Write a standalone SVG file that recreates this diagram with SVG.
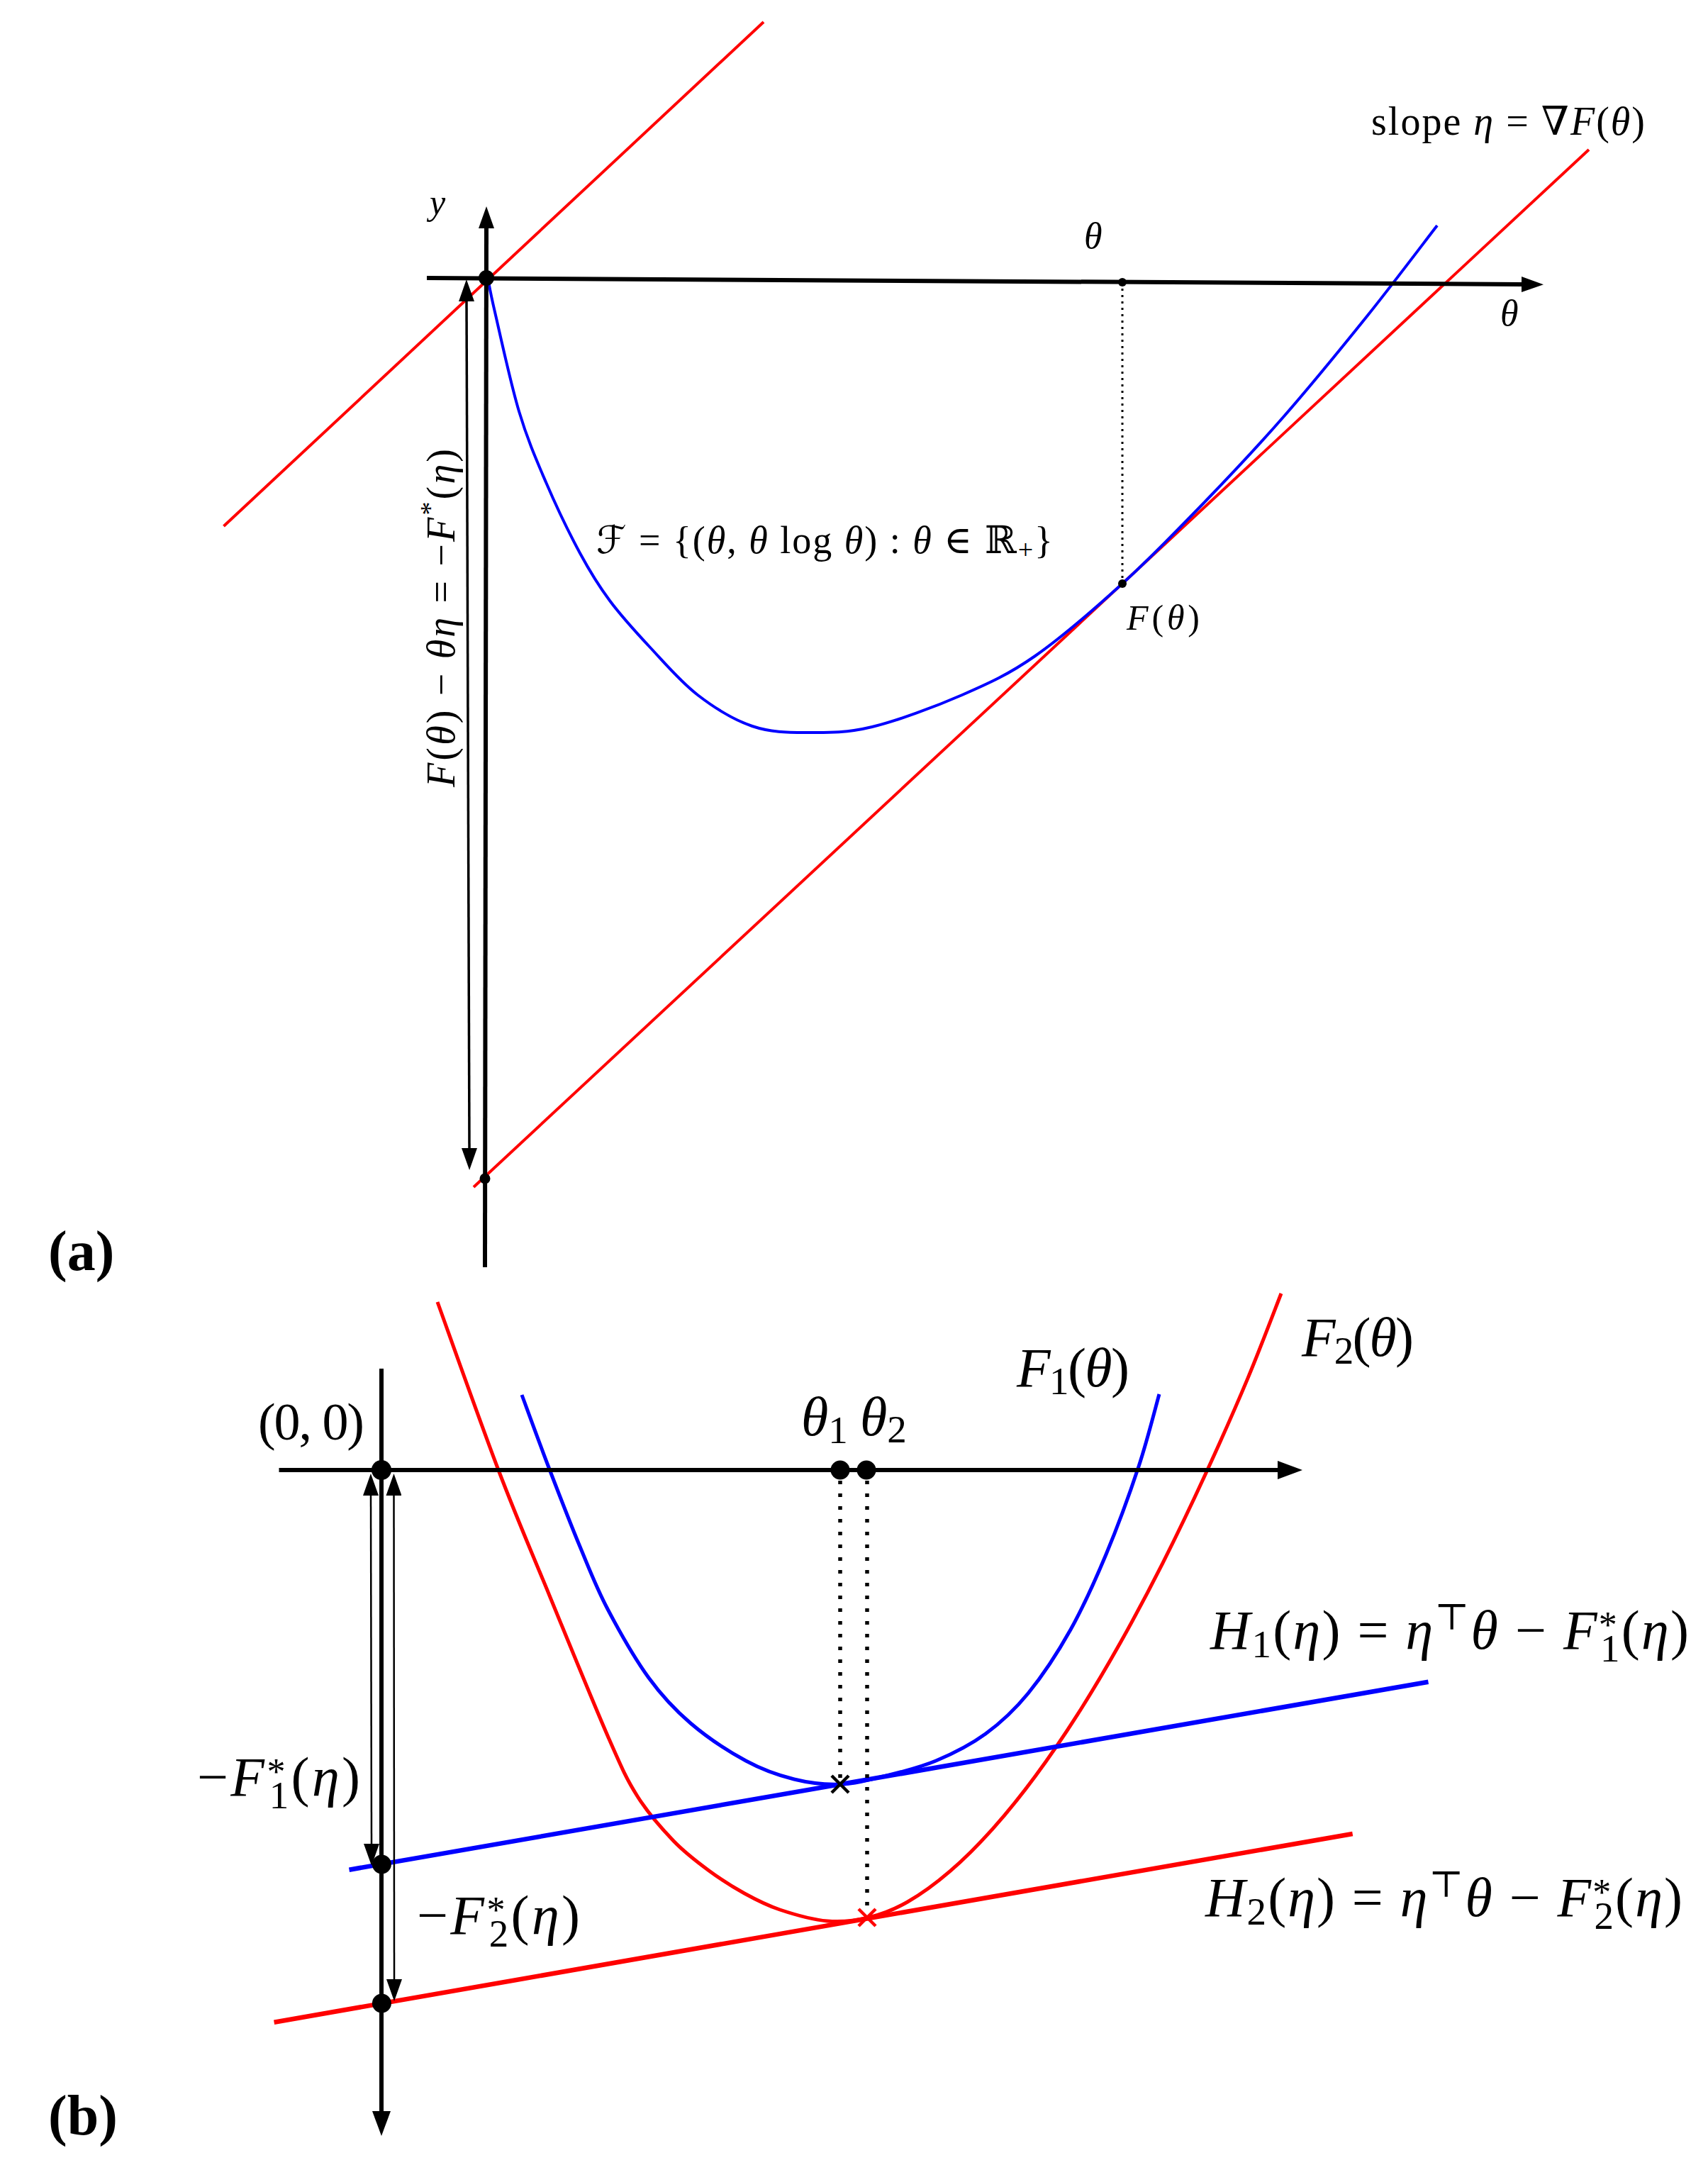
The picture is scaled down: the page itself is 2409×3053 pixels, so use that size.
<svg xmlns="http://www.w3.org/2000/svg" width="2409" height="3053" viewBox="0 0 2409 3053">
<style>
.ax{stroke:#000;stroke-width:6;fill:none}
.thin{stroke:#000;fill:none}
.red{stroke:#ff0000;fill:none}
.blue{stroke:#0000ff;fill:none}
.dot{fill:#000}
.t{font-family:"Liberation Serif","DejaVu Serif","DejaVu Sans",serif;fill:#000}
.i{font-style:italic}
.lbl{font-family:"Liberation Serif","DejaVu Serif",serif;font-weight:bold;fill:#000}
</style>
<defs>
<marker id="ahA" markerUnits="userSpaceOnUse" markerWidth="31" markerHeight="22" viewBox="0 0 31 22" refX="0" refY="11" orient="auto-start-reverse"><path d="M0,0 L31,11 L0,22 Z" fill="#000"/></marker>
<marker id="ahB" markerUnits="userSpaceOnUse" markerWidth="35" markerHeight="26" viewBox="0 0 35 26" refX="0" refY="13" orient="auto-start-reverse"><path d="M0,0 L35,13 L0,26 Z" fill="#000"/></marker>
<marker id="ahS" markerUnits="userSpaceOnUse" markerWidth="31" markerHeight="22" viewBox="0 0 31 22" refX="0" refY="11" orient="auto-start-reverse"><path d="M0,0 L31,11 L0,22 Z" fill="#000"/></marker>
</defs>
<rect width="2409" height="3053" fill="#fff"/>

<g id="panel-a">
<g id="a-curves">
<line id="a-red-upper" class="red" stroke-width="4" x1="315.5" y1="742" x2="1077" y2="31"/>
<line id="a-red-tangent" class="red" stroke-width="4" x1="668" y1="1674" x2="2241" y2="211"/>
<path id="a-blue-curve" class="blue" stroke-width="4" d="M 688 392 C 689.7 400, 690.7 408.7, 698 440 C 705.3 471.3, 720 540, 732 580 C 744 620, 755.7 646.7, 770 680 C 784.3 713.3, 803 752.2, 818 780 C 833 807.8, 843.5 824.8, 860 847 C 876.5 869.2, 896.3 890.8, 917 913 C 937.7 935.2, 960 961.5, 984 980 C 1008 998.5, 1035.2 1015.2, 1061 1024 C 1086.8 1032.8, 1110.8 1032.8, 1139 1033 C 1167.2 1033.2, 1193.7 1033.8, 1230 1025 C 1266.3 1016.2, 1318.7 996.7, 1357 980 C 1395.3 963.3, 1422.3 951.2, 1460 925 C 1497.7 898.8, 1543 859.3, 1583 823 C 1623 786.7, 1662 746.3, 1700 707 C 1738 667.7, 1773 630.5, 1811 587 C 1849 543.5, 1892 490.8, 1928 446 C 1964 401.2, 2010.5 339.3, 2027 318"/>
</g>
<g id="a-connectors">
<line id="a-theta-axis" class="ax" x1="602" y1="392" x2="2146" y2="401" marker-end="url(#ahA)"/>
<line id="a-y-axis" class="ax" x1="684" y1="1787" x2="686" y2="322" marker-end="url(#ahA)"/>
<line id="a-double-arrow" class="thin" stroke-width="3.5" x1="658" y1="425" x2="662" y2="1619" marker-start="url(#ahA)" marker-end="url(#ahA)"/>
<line id="a-dotted" class="thin" stroke-width="3" stroke-dasharray="3 6" x1="1583" y1="398" x2="1583" y2="823"/>
</g>
<g id="a-points">
<circle id="a-origin" class="dot" cx="686" cy="392" r="11"/>
<circle id="a-intercept" class="dot" cx="684" cy="1662" r="7.5"/>
<circle id="a-theta-pt" class="dot" cx="1583" cy="398" r="6"/>
<circle id="a-F-pt" class="dot" cx="1583" cy="823" r="6"/>
</g>
<g id="a-labels">
<text id="a-y" class="t i" x="606" y="302" font-size="50">y</text>
<text id="a-theta-top" class="t i" x="1529" y="350" font-size="52">θ</text>
<text id="a-theta-axis-label" class="t i" x="2116" y="459" font-size="52">θ</text>
<text id="a-slope" class="t" x="1934" y="190" font-size="56" textLength="386">slope <tspan class="i">η</tspan> = ∇<tspan class="i">F</tspan>(<tspan class="i">θ</tspan>)</text>
<text id="a-set" class="t" x="841" y="780" font-size="54" textLength="644">ℱ = {(<tspan class="i">θ</tspan>, <tspan class="i">θ</tspan> log <tspan class="i">θ</tspan>)  :  <tspan class="i">θ</tspan> ∈ ℝ<tspan font-size="38" dy="8">+</tspan><tspan dy="-8">}</tspan></text>
<text id="a-Ftheta" class="t" x="1589" y="888" font-size="50" textLength="103"><tspan class="i">F</tspan>(<tspan class="i">θ</tspan>)</text>
<text id="a-rot" class="t" transform="translate(641 1110) rotate(-90)" font-size="56" textLength="477"><tspan class="i">F</tspan>(<tspan class="i">θ</tspan>) − <tspan class="i">θη</tspan> = −<tspan class="i">F</tspan><tspan font-size="38" dy="-22">*</tspan><tspan dy="22">(</tspan><tspan class="i">η</tspan>)</text>
<text id="a-tag" class="lbl" x="68" y="1791" font-size="80">(a)</text>
</g>
</g>

<g id="panel-b">
<g id="b-curves">
<path id="b-F2" class="red" stroke-width="5" d="M 617 1836 C 631.3 1875.5, 676.7 2004, 703 2073 C 729.3 2142, 749.2 2187.2, 775 2250 C 800.8 2312.8, 837.3 2402.8, 858 2450 C 878.7 2497.2, 883.7 2508.7, 899 2533 C 914.3 2557.3, 933.2 2578.5, 950 2596 C 966.8 2613.5, 983.3 2625.7, 1000 2638 C 1016.7 2650.3, 1033.3 2660.8, 1050 2670 C 1066.7 2679.2, 1080.5 2686.5, 1100 2693 C 1119.5 2699.5, 1146.2 2707.2, 1167 2709 C 1187.8 2710.8, 1206.2 2708.5, 1225 2704 C 1243.8 2699.5, 1260.8 2692.9, 1280 2682 C 1299.2 2671.1, 1320 2655.9, 1340 2638.7 C 1360 2621.5, 1380 2601.4, 1400 2579.1 C 1420 2556.8, 1440 2532, 1460 2505 C 1480 2478, 1500 2448.8, 1520 2417.4 C 1540 2386, 1560 2352.4, 1580 2316.8 C 1600 2281.2, 1620 2243.7, 1640 2204.1 C 1660 2164.5, 1680 2122.8, 1700 2079.3 C 1720 2035.8, 1742.2 1986, 1760 1943.4 C 1777.8 1900.8, 1799.2 1843.9, 1807 1824"/>
<path id="b-F1" class="blue" stroke-width="5" d="M 736 1967 C 742.5 1984.5, 761.3 2036.3, 775 2072 C 788.7 2107.7, 804.3 2148.2, 818 2181 C 831.7 2213.8, 840.8 2238.2, 857 2269 C 873.2 2299.8, 895.5 2339.2, 915 2366 C 934.5 2392.8, 951.2 2410.5, 974 2430 C 996.8 2449.5, 1027.7 2469.8, 1052 2483 C 1076.3 2496.2, 1097.8 2503.5, 1120 2509 C 1142.2 2514.5, 1163.3 2516.8, 1185 2516 C 1206.7 2515.2, 1227.5 2509.5, 1250 2504 C 1272.5 2498.5, 1296.7 2492.8, 1320 2483 C 1343.3 2473.2, 1368.3 2460.8, 1390 2445 C 1411.7 2429.2, 1430 2412.5, 1450 2388 C 1470 2363.5, 1491.7 2330.7, 1510 2298 C 1528.3 2265.3, 1544 2230.3, 1560 2192 C 1576 2153.7, 1593.5 2105.7, 1606 2068 C 1618.5 2030.3, 1630.2 1983, 1635 1966"/>
<line id="b-H1" class="blue" stroke-width="6.5" x1="492.5" y1="2636.7" x2="2014.5" y2="2371.7"/>
<line id="b-H2" class="red" stroke-width="6.5" x1="386.6" y1="2851.7" x2="1907.7" y2="2586"/>
</g>
<g id="b-connectors">
<line id="b-theta-axis" class="ax" x1="393.5" y1="2073" x2="1802" y2="2073" marker-end="url(#ahB)"/>
<line id="b-y-axis" class="ax" x1="538" y1="1930" x2="538" y2="2977" marker-end="url(#ahB)"/>
<line id="b-arrow-F1" class="thin" stroke-width="2.5" x1="523" y1="2109" x2="524" y2="2600" marker-start="url(#ahS)" marker-end="url(#ahS)"/>
<line id="b-arrow-F2" class="thin" stroke-width="2.5" x1="555.5" y1="2109" x2="556" y2="2791" marker-start="url(#ahS)" marker-end="url(#ahS)"/>
<line id="b-dot1" class="thin" stroke-width="5.5" stroke-dasharray="5 13" x1="1185" y1="2088" x2="1185" y2="2510"/>
<line id="b-dot2" class="thin" stroke-width="5.5" stroke-dasharray="5 13" x1="1223" y1="2088" x2="1223" y2="2698"/>
</g>
<g id="b-points">
<circle id="b-origin" class="dot" cx="538" cy="2073" r="14"/>
<circle id="b-theta1" class="dot" cx="1185" cy="2073" r="13.5"/>
<circle id="b-theta2" class="dot" cx="1222" cy="2073" r="13.5"/>
<circle id="b-F1star" class="dot" cx="538.4" cy="2629" r="13.5"/>
<circle id="b-F2star" class="dot" cx="538.4" cy="2825" r="13.5"/>
<path id="b-cross1" d="M1173,2504 L1197,2528 M1173,2528 L1197,2504" stroke="#000" stroke-width="4.5" fill="none"/>
<path id="b-cross2" d="M1211,2692 L1235,2716 M1211,2716 L1235,2692" stroke="#ff0000" stroke-width="4.5" fill="none"/>
</g>
<g id="b-labels">
<text id="b-origin-label" class="t" x="364" y="2030" font-size="74" textLength="150">(0, 0)</text>
<text id="b-thetas" class="t" x="1130" y="2024" font-size="78"><tspan class="i">θ</tspan><tspan font-size="55" dy="11">1</tspan><tspan class="i" x="1213" dy="-11">θ</tspan><tspan font-size="55" dy="10">2</tspan></text>
<text id="b-F1-label" class="t" x="1434" y="1955" font-size="78" textLength="159"><tspan class="i">F</tspan><tspan font-size="55" dy="11">1</tspan><tspan dy="-11">(</tspan><tspan class="i">θ</tspan>)</text>
<text id="b-F2-label" class="t" x="1836" y="1912" font-size="78" textLength="158"><tspan class="i">F</tspan><tspan font-size="55" dy="11">2</tspan><tspan dy="-11">(</tspan><tspan class="i">θ</tspan>)</text>
<text id="b-H1-label" class="t" x="1707" y="2325" font-size="78" textLength="675"><tspan class="i">H</tspan><tspan font-size="55" dy="12">1</tspan><tspan dy="-12">(</tspan><tspan class="i">η</tspan>) = <tspan class="i">η</tspan><tspan font-size="52" dy="-27">⊤</tspan><tspan class="i" dy="27">θ</tspan> − <tspan class="i">F</tspan><tspan font-size="52" dy="-16">*</tspan><tspan font-size="55" dx="-26" dy="34">1</tspan><tspan dy="-18">(</tspan><tspan class="i">η</tspan>)</text>
<text id="b-H2-label" class="t" x="1700" y="2702" font-size="78" textLength="673"><tspan class="i">H</tspan><tspan font-size="55" dy="12">2</tspan><tspan dy="-12">(</tspan><tspan class="i">η</tspan>) = <tspan class="i">η</tspan><tspan font-size="52" dy="-27">⊤</tspan><tspan class="i" dy="27">θ</tspan> − <tspan class="i">F</tspan><tspan font-size="52" dy="-16">*</tspan><tspan font-size="55" dx="-26" dy="34">2</tspan><tspan dy="-18">(</tspan><tspan class="i">η</tspan>)</text>
<text id="b-negF1" class="t" x="278" y="2532" font-size="78" textLength="230">−<tspan class="i">F</tspan><tspan font-size="52" dy="-16">*</tspan><tspan font-size="55" dx="-26" dy="34">1</tspan><tspan dy="-18">(</tspan><tspan class="i">η</tspan>)</text>
<text id="b-negF2" class="t" x="588" y="2727" font-size="78" textLength="230">−<tspan class="i">F</tspan><tspan font-size="52" dy="-16">*</tspan><tspan font-size="55" dx="-26" dy="34">2</tspan><tspan dy="-18">(</tspan><tspan class="i">η</tspan>)</text>
<text id="b-tag" class="lbl" x="68" y="3010" font-size="80">(b)</text>
</g>
</g>
</svg>
